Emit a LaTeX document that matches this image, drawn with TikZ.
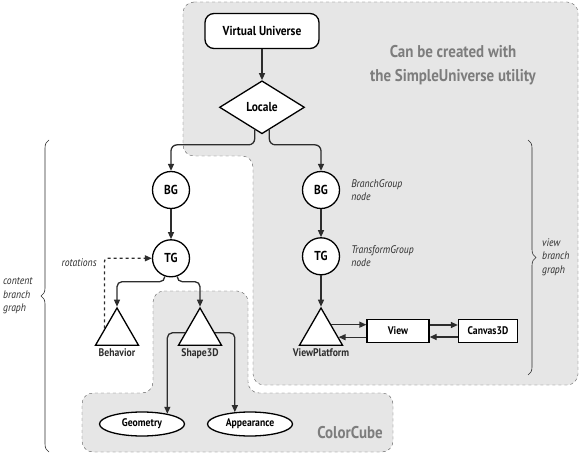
\documentclass[tikz,border=0pt]{standalone}
\usepackage{fontspec}
\setmainfont{PT Sans}[FakeStretch=0.88]
\usepackage{tikz}
\usetikzlibrary{shapes.geometric, arrows.meta, positioning, calc, backgrounds, decorations.pathreplacing}
\definecolor{linegray}{RGB}{45,45,45}
\definecolor{regionfill}{RGB}{230,230,230}
\definecolor{regionline}{RGB}{90,90,90}
\definecolor{titlegray}{RGB}{125,125,125}

\begin{document}
\begin{tikzpicture}[
    x=1pt, y=-1pt,
    node distance=0.5cm,
    rootbox/.style={rectangle, rounded corners=9pt, draw=black, line width=1.3pt, fill=white, minimum width=114pt, minimum height=35pt, font=\fontsize{13}{14}\selectfont\bfseries},
    localebox/.style={diamond, draw=black, line width=1.3pt, fill=white, minimum width=85pt, minimum height=53pt, inner sep=0pt, font=\fontsize{13}{14}\selectfont\bfseries},
    groupnode/.style={circle, draw=black, line width=1.3pt, fill=white, minimum size=37pt, inner sep=0pt, font=\fontsize{13}{14}\selectfont\bfseries},
    leafnode/.style={regular polygon, regular polygon sides=3, draw=black, line width=1.3pt, fill=white, minimum size=49.6pt, inner sep=0pt},
    compbox/.style={ellipse, draw=black, line width=1.3pt, fill=white, minimum width=85pt, minimum height=24pt, inner sep=0pt, font=\fontsize{11}{13}\selectfont\bfseries},
    objbox/.style={rectangle, draw=black, line width=1.3pt, fill=white, minimum height=23pt, inner sep=0pt, font=\fontsize{11}{13}\selectfont\bfseries},
    leaflabel/.style={inner sep=1pt, text=linegray, font=\fontsize{11}{13}\selectfont\bfseries},
    note/.style={inner sep=1pt, align=left, text=linegray, font=\fontsize{11}{13.5}\selectfont\itshape},
    title/.style={align=center, text=titlegray, font=\fontsize{17}{24}\selectfont\bfseries},
    region/.style={draw=regionline, fill=regionfill, dashed, thin, rounded corners=11pt},
    brace/.style={decorate, decoration={brace, amplitude=8pt}, draw=linegray, semithick},
    arrowstyle/.style={-{Triangle[length=7pt,width=6pt]}, line width=1.3pt, draw=linegray}
]
\useasboundingbox (0,0) rectangle (580,454);

% Scene graph nodes
\node[rootbox] (universe) at (262,31) {Virtual Universe};
\node[localebox, below=31pt of universe] (locale) {Locale};

\node[groupnode] (bgL) at (171,190) {BG};
\node[groupnode, below=30pt of bgL] (tgL) {TG};
\node[groupnode] (bgR) at (321,190) {BG};
\node[groupnode, below=28pt of bgR] (tgR) {TG};

\node[leafnode] (behavior) at (117,332.8) {};
\node[leafnode] (shape) at (200,332.8) {};
\node[leafnode] (platform) at (321,332.8) {};
\node[leaflabel, below=2pt of behavior] (behaviorlbl) {Behavior};
\node[leaflabel, below=2pt of shape] (shapelbl) {Shape3D};
\node[leaflabel, below=2pt of platform] (platformlbl) {ViewPlatform};

\node[compbox] (geometry) at (142,424) {Geometry};
\node[compbox] (appearance) at (250,424) {Appearance};

\node[objbox, minimum width=62pt] (view) at (398,331) {View};
\node[objbox, minimum width=59pt] (canvas) at (488,331) {Canvas3D};

% Notes
\node[note, anchor=west] (bgnote) at ([xshift=10pt]bgR.east) {BranchGroup\\node};
\node[note, anchor=west] (tgnote) at ([xshift=10pt]tgR.east) {TransformGroup\\node};
\node[note, anchor=east] (rotlbl) at ([xshift=-54pt, yshift=-4pt]tgL.west) {rotations};
\node[note, anchor=west] (contentlbl) at (2,296) {content\\branch\\graph};
\node[note, anchor=west] (viewlbl) at (541,257) {view\\branch\\graph};

\node[title] (sulabel) at (453,65) {Can be created with\\the SimpleUniverse utility};
\node[title] (cclabel) at (350,433) {ColorCube};

% Regions
\begin{scope}[on background layer]
\draw[region] (183,2) -- (578,2) -- (578,385) -- (253,385) -- (253,156) -- (183,156) -- cycle;
\draw[region] (153,291) -- (248,291) -- (248,393) -- (393,393) -- (393,452) -- (82,452) -- (82,393) -- (153,393) -- cycle;
\end{scope}

% Braces
\draw[brace] (49,452) -- (49,140);
\draw[brace] (528,140) -- (528,375);

% Connectors
\draw[arrowstyle] (universe) -- (locale);
\draw[arrowstyle, rounded corners=6pt] (locale.252) |- ([yshift=26pt]bgL.north) -- (bgL);
\draw[arrowstyle, rounded corners=6pt] (locale.288) |- ([yshift=26pt]bgR.north) -- (bgR);
\draw[arrowstyle] (bgL) -- (tgL);
\draw[arrowstyle] (bgR) -- (tgR);
\draw[arrowstyle] (tgR) -- (platform);
\draw[arrowstyle, rounded corners=5pt] (tgL.251) |- ([yshift=25pt]behavior.north) -- (behavior);
\draw[arrowstyle, rounded corners=5pt] (tgL.289) |- ([yshift=25pt]shape.north) -- (shape);
\draw[arrowstyle, dashed, rounded corners=3pt] (behavior.161) |- (tgL.west);
\draw[arrowstyle, rounded corners=5pt] (shape.west) -| (geometry.22);
\draw[arrowstyle, rounded corners=5pt] (shape.east) -| (appearance.142);
\draw[arrowstyle] (platform.38) -- (platform.38 -| view.west);
\draw[arrowstyle] (view.west |- platform.-14) -- (platform.-14);
\draw[arrowstyle] ([yshift=6pt]view.east) -- ([yshift=6pt]canvas.west);
\draw[arrowstyle] ([yshift=-6pt]canvas.west) -- ([yshift=-6pt]view.east);
\end{tikzpicture}
\end{document}
